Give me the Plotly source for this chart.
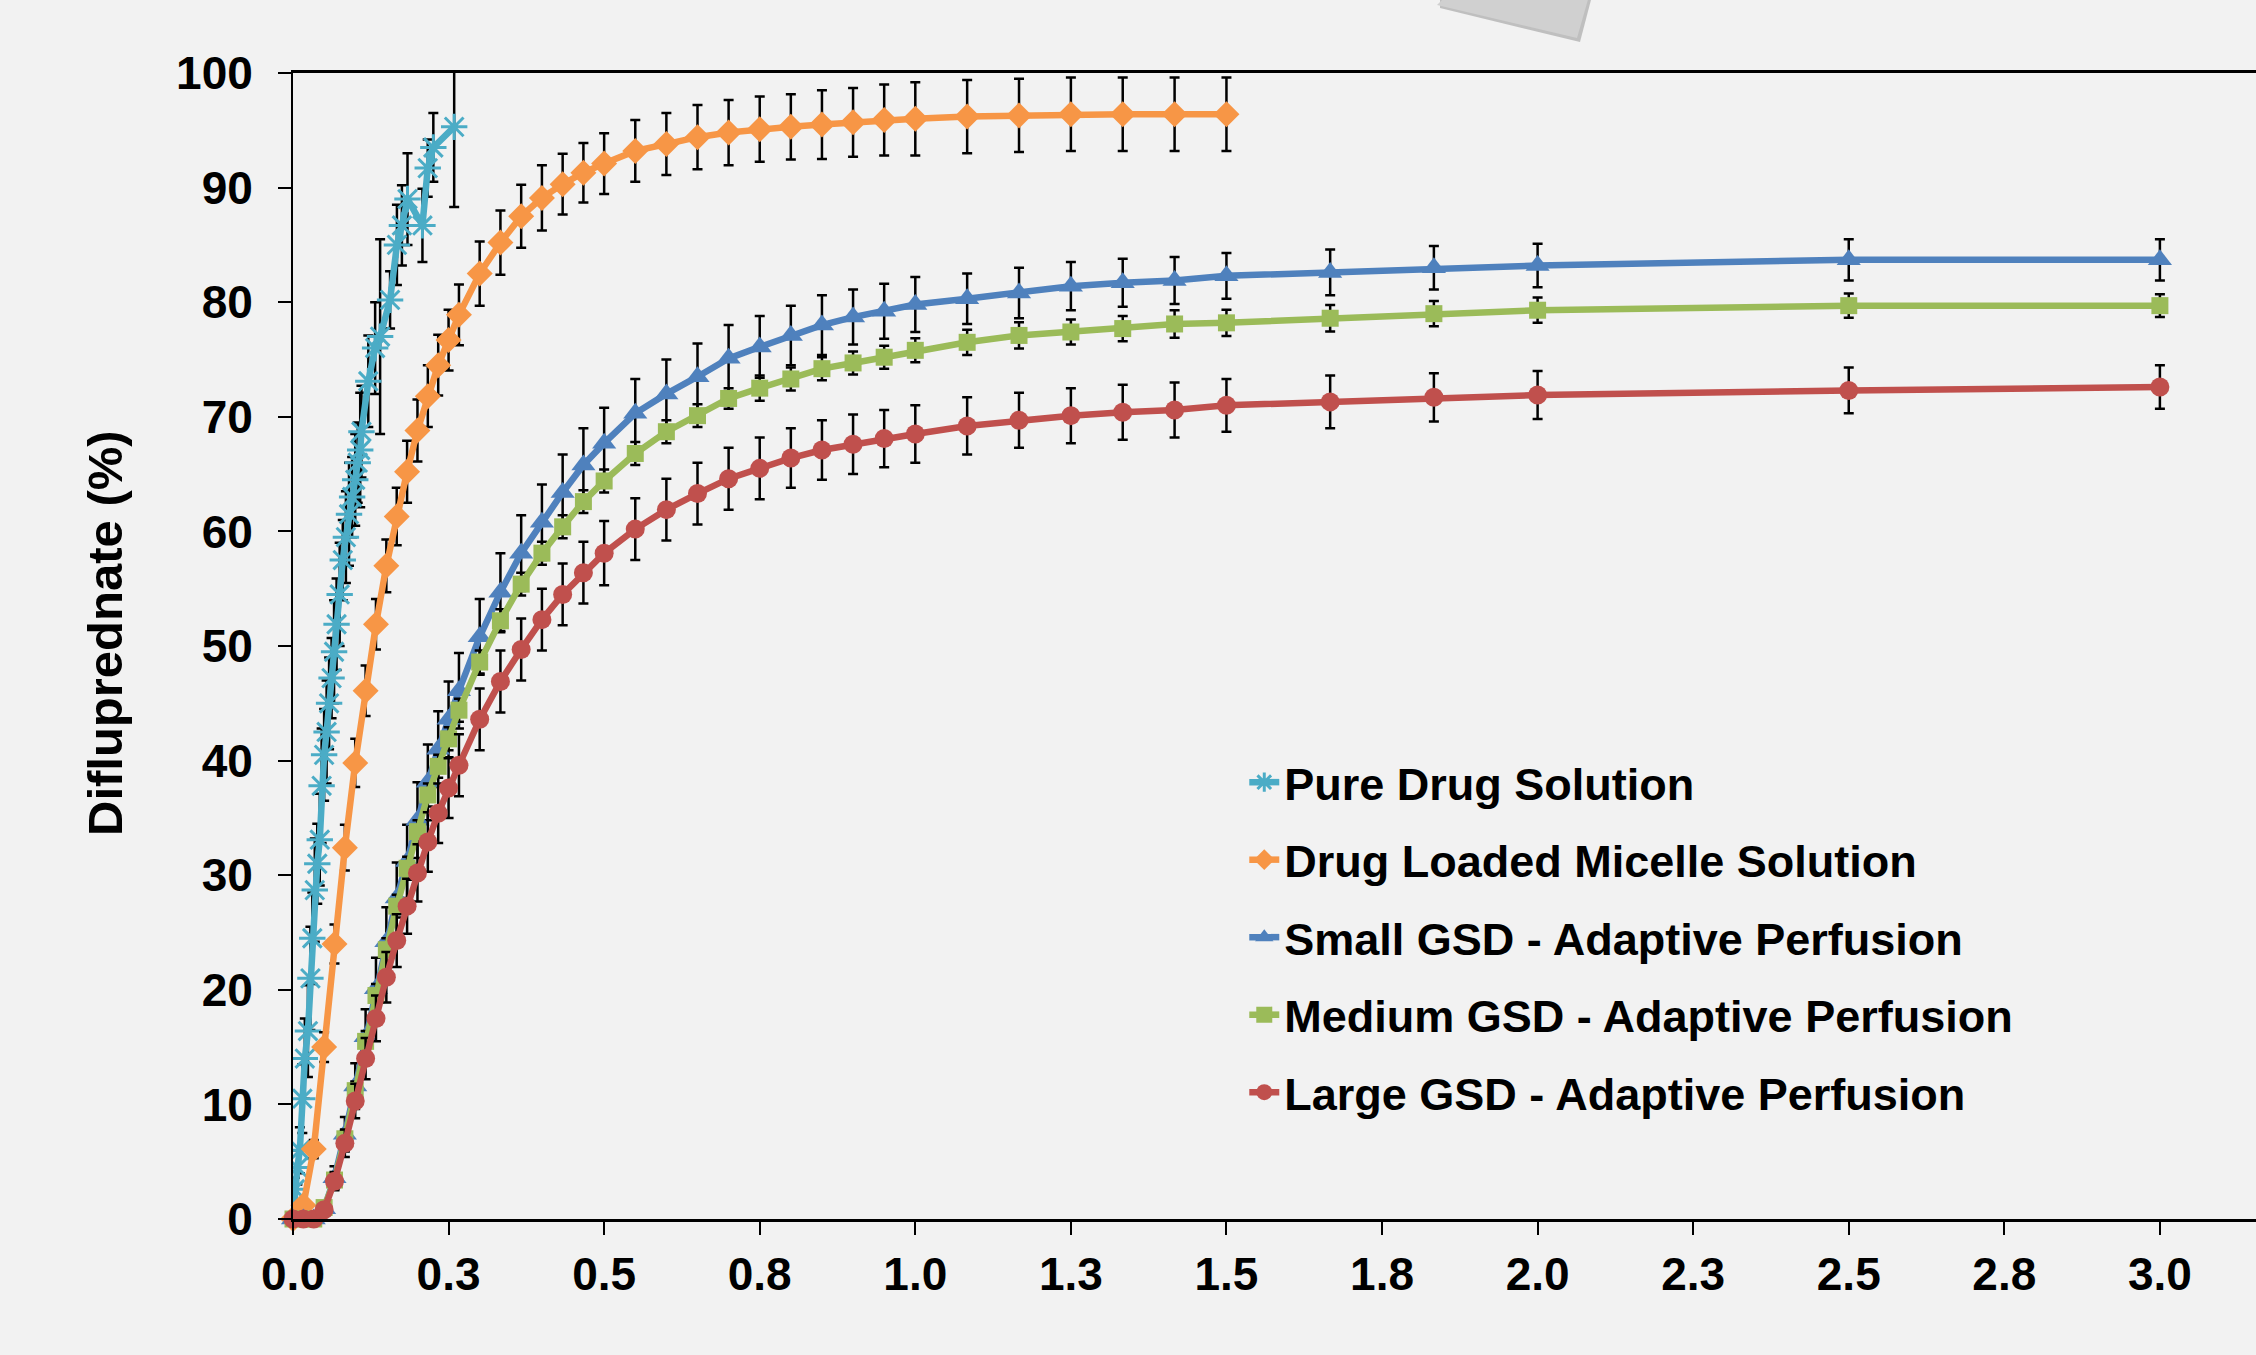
import plotly.graph_objects as go

# ---------------- data ----------------
# sampling times (minutes) of the GSD experiments
gsd_time_min = [0, 1, 2, 3, 4, 5, 6, 7, 8, 9, 10, 11, 12, 13, 14, 15, 16, 18, 20, 22, 24, 26, 28, 30,
                33, 36, 39, 42, 45, 48, 51, 54, 57, 60, 65, 70, 75, 80, 85, 90, 100, 110, 120, 150, 180]

small_gsd = [0, 0, 0, 0.9, 3.6, 7.4, 11.6, 15.9, 20.1, 24.2, 28.0, 31.2, 34.8, 38.1, 41.0, 43.6, 46.1, 50.8,
             54.7, 58.1, 60.8, 63.4, 65.8, 67.7, 70.3, 72.0, 73.5, 75.1, 76.1, 77.1, 78.0, 78.7, 79.2, 79.8,
             80.3, 80.8, 81.4, 81.7, 81.9, 82.3, 82.6, 83.0, 83.2, 83.7, 83.7]
small_gsd_err = [0.3, 0.3, 0.3, 0.6, 1.0, 1.5, 2.0, 2.4, 2.7, 3.0, 3.1, 3.2, 3.3, 3.3, 3.3, 3.3, 3.3, 3.3,
                 3.4, 3.3, 3.3, 3.3, 3.2, 3.1, 3.0, 3.0, 2.9, 2.9, 2.7, 2.6, 2.6, 2.4, 2.4, 2.4,
                 2.2, 2.2, 2.1, 2.1, 2.05, 2.0, 2.0, 1.9, 1.9, 1.8, 1.8]

medium_gsd = [0, 0, 0, 1.0, 3.4, 7.0, 11.2, 15.5, 19.5, 23.5, 27.3, 30.6, 33.8, 37.0, 39.5, 41.9, 44.4, 48.6,
              52.2, 55.4, 58.1, 60.4, 62.6, 64.4, 66.8, 68.7, 70.1, 71.6, 72.5, 73.3, 74.2, 74.7, 75.2, 75.8,
              76.5, 77.1, 77.4, 77.7, 78.1, 78.2, 78.6, 79.0, 79.3, 79.7, 79.7]
medium_gsd_err = [0.2, 0.2, 0.2, 0.3, 0.5, 0.7, 0.8, 0.9, 1.0, 1.0, 1.0, 1.0, 1.0, 1.0, 1.0, 1.0, 1.0, 1.0,
                  1.0, 1.0, 1.0, 1.0, 1.0, 1.0, 1.0, 1.0, 1.0, 0.9, 1.1, 1.0, 1.0, 1.0, 1.0, 1.05,
                  1.1, 1.15, 1.1, 1.1, 1.2, 1.15, 1.15, 1.1, 1.1, 1.05, 1.0]

large_gsd = [0, 0, 0, 0.8, 3.3, 6.6, 10.3, 14.0, 17.5, 21.1, 24.3, 27.3, 30.2, 32.9, 35.4, 37.6, 39.6, 43.6,
             46.9, 49.7, 52.3, 54.5, 56.4, 58.1, 60.2, 61.9, 63.3, 64.6, 65.5, 66.4, 67.1, 67.6, 68.1, 68.5,
             69.2, 69.7, 70.1, 70.4, 70.6, 71.0, 71.3, 71.7, 71.9, 72.3, 72.6]
large_gsd_err = [0.2, 0.3, 0.3, 0.5, 0.8, 1.2, 1.5, 1.8, 2.0, 2.2, 2.3, 2.4, 2.5, 2.6, 2.6, 2.6, 2.7, 2.7,
                 2.7, 2.7, 2.7, 2.7, 2.7, 2.8, 2.7, 2.7, 2.7, 2.7, 2.7, 2.6, 2.6, 2.6, 2.5, 2.5,
                 2.5, 2.4, 2.4, 2.4, 2.4, 2.3, 2.3, 2.1, 2.1, 2.0, 1.9]

# micelle solution
micelle_time_min = [0, 1, 2, 3, 4, 5, 6, 7, 8, 9, 10, 11, 12, 13, 14, 15, 16, 18, 20, 22, 24, 26, 28, 30,
                    33, 36, 39, 42, 45, 48, 51, 54, 57, 60, 65, 70, 75, 80, 85, 90]
micelle = [0, 1.2, 6.1, 15.0, 24.0, 32.4, 39.8, 46.1, 51.9, 57.0, 61.3, 65.2, 68.8, 71.8, 74.5, 76.7, 78.9,
           82.5, 85.2, 87.5, 89.1, 90.3, 91.3, 92.1, 93.2, 93.8, 94.4, 94.8, 95.1, 95.3, 95.5, 95.7, 95.9,
           96.0, 96.2, 96.3, 96.4, 96.4, 96.4, 96.4]
micelle_err = [0.1, 0.3, 0.8, 1.3, 1.7, 2.0, 2.1, 2.2, 2.2, 2.3, 2.5, 2.7, 2.7, 2.7, 2.65, 2.65, 2.65,
               2.8, 2.8, 2.75, 2.85, 2.65, 2.6, 2.65, 2.7, 2.7, 2.8, 2.85, 2.85, 2.85, 3.0, 3.0, 3.1,
               3.2, 3.2, 3.2, 3.2, 3.2, 3.2, 3.2]

# pure drug solution (time already in hours)
pure_time_h = [0.000, 0.003, 0.007, 0.011, 0.015, 0.019, 0.024, 0.028, 0.031, 0.035, 0.039, 0.043, 0.046,
               0.050, 0.054, 0.058, 0.062, 0.066, 0.070, 0.075, 0.080, 0.085, 0.090, 0.095, 0.100, 0.104,
               0.108, 0.110, 0.121, 0.132, 0.140, 0.156, 0.167, 0.175, 0.184, 0.208, 0.2165, 0.2255, 0.259]
pure = [0.0, 2.6, 4.5, 6.0, 10.5, 14.0, 16.4, 21.0, 24.5, 28.7, 31.0, 33.1, 37.8, 40.5, 42.5, 45.0, 47.2,
        49.5, 51.9, 54.5, 57.5, 59.5, 61.5, 63.0, 64.5, 66.0, 67.1, 68.7, 73.1, 76.0, 77.0, 80.2, 85.0,
        86.7, 89.0, 86.7, 91.7, 93.5, 95.3]
pure_err = [0.3, 1.0, 1.5, 2.0, 3.0, 3.5, 4.0, 4.5, 4.0, 4.5, 3.5, 4.0, 5.0, 4.0, 4.5, 4.0, 3.5, 4.5, 4.0,
            4.5, 3.5, 4.0, 4.5, 3.5, 4.0, 3.5, 5.0, 4.0, 4.0, 4.0, 8.5, 2.5, 3.5, 3.5, 4.0, 3.2, 2.5, 3.0, 7.0]

x_tick_vals = [0, 0.25, 0.5, 0.75, 1.0, 1.25, 1.5, 1.75, 2.0, 2.25, 2.5, 2.75, 3.0]
x_tick_text = ["0.0", "0.3", "0.5", "0.8", "1.0", "1.3", "1.5", "1.8", "2.0", "2.3", "2.5", "2.8", "3.0"]

series_names = ["Pure Drug Solution", "Drug Loaded Micelle Solution", "Small GSD - Adaptive Perfusion",
                "Medium GSD - Adaptive Perfusion", "Large GSD - Adaptive Perfusion"]
colors = ["#4bacc6", "#f79646", "#4f81bd", "#9bbb59", "#c0504d"]
y_title = "Difluprednate (%)"

# ---------------- figure ----------------
W, H = 2256, 1355
ML, MR, MT, MB = 293, 0, 73, 136
FONT = "Liberation Sans, Arial, sans-serif"

gsd_h = [t / 60 for t in gsd_time_min]
mic_h = [t / 60 for t in micelle_time_min]

fig = go.Figure()


def add(x, y, err, name, color, symbol, size, clip=False, line_w=0):
    fig.add_trace(go.Scatter(
        x=x, y=y, name=name, mode="lines+markers", legendgroup=name,
        line=dict(color=color, width=6.5),
        marker=dict(symbol=symbol, size=size, color=color,
                    line=dict(color=color, width=line_w)),
        error_y=dict(type="data", array=err, visible=True, color="black", thickness=2.5, width=5),
        cliponaxis=clip,
    ))


add(pure_time_h, pure, pure_err, series_names[0], colors[0], "asterisk-open", 22, clip=True, line_w=3)
add(mic_h, micelle, micelle_err, series_names[1], colors[1], "diamond", 20)
add(gsd_h, small_gsd, small_gsd_err, series_names[2], colors[2], "triangle-up", 21)
add(gsd_h, medium_gsd, medium_gsd_err, series_names[3], colors[3], "square", 17)
add(gsd_h, large_gsd, large_gsd_err, series_names[4], colors[4], "circle", 19)

pw = W - ML - MR
ph = H - MT - MB


def px(xp, yp):
    return (xp - ML) / pw, (H - MB - yp) / ph


def path(points):
    s = ""
    for i, (a, b) in enumerate(points):
        u, v = px(a, b)
        s += ("M" if i == 0 else "L") + f"{u:.5f},{v:.5f} "
    return s + "Z"


# grey sheet of paper cut off at the top edge of the picture
shadow_pts = [(1440, -4), (1440, 8), (1580, 42), (1592, -4)]
sheet_pts = [(1446, -4), (1437, 5), (1577, 38), (1589, -4)]

title_x, title_y = px(105, 633)

fig.update_layout(
    width=W, height=H,
    template="none",
    paper_bgcolor="#f2f2f2", plot_bgcolor="#f2f2f2",
    margin=dict(l=ML, r=MR, t=MT, b=MB, pad=0),
    font=dict(family=FONT, color="black", size=45, weight="bold"),
    showlegend=True,
    legend=dict(
        x=0.4846, y=0.4124, xanchor="left", yanchor="top",
        bgcolor="rgba(0,0,0,0)", borderwidth=0,
        font=dict(family=FONT, size=45, color="black", weight="bold"),
        traceorder="grouped", tracegroupgap=16, itemwidth=30,
    ),
    xaxis=dict(
        range=[0, (W - ML - MR) / 622.3], tickvals=x_tick_vals, ticktext=x_tick_text,
        showline=True, linecolor="black", linewidth=2.5, mirror=True,
        ticks="outside", ticklen=13, tickwidth=2, tickcolor="black",
        showgrid=False, zeroline=False, automargin=False,
        tickfont=dict(family=FONT, size=46, color="black", weight="bold"),
    ),
    yaxis=dict(
        range=[0, 100], dtick=10, tick0=0,
        showline=True, linecolor="black", linewidth=2, mirror=False,
        ticks="outside", ticklen=13, tickwidth=2, tickcolor="black",
        showgrid=False, zeroline=False, automargin=False, ticklabelstandoff=16,
        tickfont=dict(family=FONT, size=46, color="black", weight="bold"),
    ),
    annotations=[
        dict(text=y_title, xref="paper", yref="paper", x=title_x, y=title_y,
             xanchor="center", yanchor="middle", textangle=-90, showarrow=False,
             font=dict(family=FONT, size=49, color="black", weight="bold")),
    ],
    shapes=[
        dict(type="path", xref="paper", yref="paper", path=path(shadow_pts),
             fillcolor="rgba(150,150,150,0.55)", line=dict(width=0), layer="above"),
        dict(type="path", xref="paper", yref="paper", path=path(sheet_pts),
             fillcolor="#d0d0d0", line=dict(width=0), layer="above"),
    ],
)

fig.write_html("out.html", config={"displayModeBar": False},
               post_script="document.body.style.margin='0';document.body.style.overflow='hidden';")
